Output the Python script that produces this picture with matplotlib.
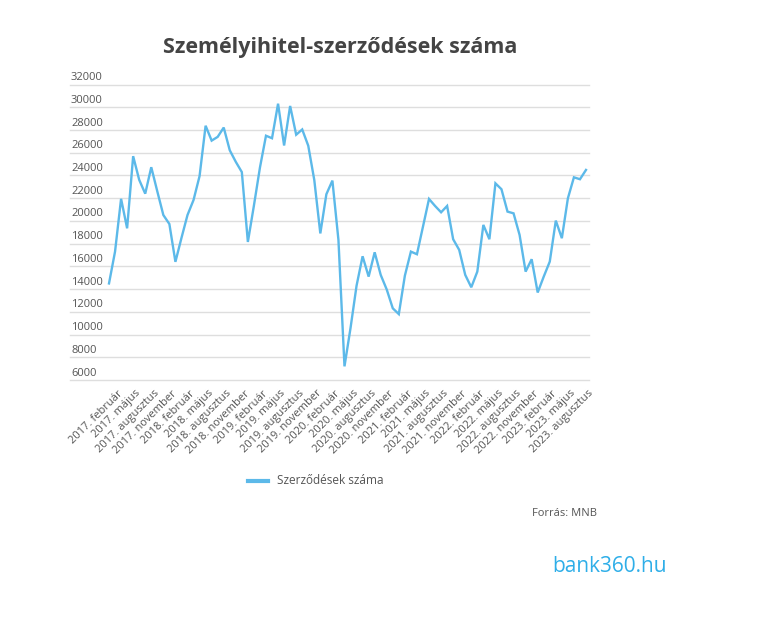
import matplotlib.pyplot as plt
from matplotlib.transforms import ScaledTranslation

# =========================================================
# DATA (havi szerződésszám, 2017. február - 2023. szeptember)
# =========================================================
honapok = ["január", "február", "március", "április", "május", "június",
           "július", "augusztus", "szeptember", "október", "november", "december"]

start_year = 2017
start_month = 2  # február

szerzodesek = [
    14500, 17300, 21950, 19350, 25700, 23620, 22400, 24730, 22600, 20520,
    19730, 16400, 18500, 20520, 21840, 23950, 28380, 27070, 27400, 28220,
    26220, 25200, 24300, 18150, 21350, 24700, 27500, 27280, 30320, 26640,
    30120, 27590, 28050, 26620, 23600, 18900, 22350, 23550, 18320, 7200,
    10570, 14300, 16890, 15100, 17240, 15250, 13960, 12310, 11800, 15180,
    17300, 17070, 19500, 21935, 21320, 20760, 21320, 18390, 17450, 15250,
    14160, 15540, 19650, 18390, 23310, 22790, 20820, 20670, 18770, 15540,
    16630, 13700, 15100, 16420, 20030, 18480, 21990, 23840, 23670, 24490,
]

y_ticks = list(range(6000, 32001, 2000))

labels = []
for i in range(len(szerzodesek)):
    m = start_month - 1 + i
    labels.append(f"{start_year + m // 12}. {honapok[m % 12]}")

# =========================================================
# FIGURE
# =========================================================
plt.rcParams['font.family'] = ['Open Sans', 'DejaVu Sans']

W, H = 761, 617
fig = plt.figure(figsize=(W / 100, H / 100), dpi=100)
fig.patch.set_facecolor("white")

left, right, top, bottom = 70, 589, 84.6, 380
ax = fig.add_axes([left / W, 1 - bottom / H, (right - left) / W, (bottom - top) / H])

x = list(range(len(szerzodesek)))
ax.plot(x, szerzodesek, color="#5cb9e9", linewidth=1.7, solid_joinstyle="miter",
        label="Szerződések száma", zorder=3)

px = 477 / (len(szerzodesek) - 1)
ax.set_xlim(-(109 - left) / px, len(szerzodesek) - 1 + (right - 586) / px)
ax.set_ylim(6000, 32000)

for s in ax.spines.values():
    s.set_visible(False)
ax.set_yticks(y_ticks)
ax.set_xticks([])
ax.tick_params(axis="y", length=0, labelleft=False)
ax.grid(axis="y", color="#dedede", linewidth=1)
for gl in ax.get_ygridlines():
    gl.set_clip_on(False)  # a szélső rácsvonalak is látszódjanak
ax.set_axisbelow(True)

# y feliratok a rácsvonal fölött, balra igazítva
for v in y_ticks:
    ax.text(0.0, v, str(v), transform=ax.get_yaxis_transform() +
            ScaledTranslation(1 / 100, 1.5 / 100, fig.dpi_scale_trans),
            ha="left", va="bottom", fontsize=8, color="#555555")

# x feliratok: minden harmadik hónap, 45 fokban
for i in range(0, len(labels), 3):
    ax.text(i, 0, labels[i], transform=ax.get_xaxis_transform() +
            ScaledTranslation(8 / 100, -8 / 100, fig.dpi_scale_trans),
            rotation=45, rotation_mode="anchor", ha="right", va="top",
            fontsize=8, color="#555555")

# =========================================================
# TITLE, LEGEND, SOURCE, LOGO
# =========================================================
fig.text(340 / W, 1 - 48 / H, "Személyihitel-szerződések száma",
         ha="center", va="center", fontsize=15.5, fontweight="bold", color="#444444")

fig.add_artist(plt.Line2D([248 / W, 268 / W], [1 - 481 / H, 1 - 481 / H],
                          color="#5cb9e9", linewidth=3))
fig.text(277 / W, 1 - 481 / H, "Szerződések száma", ha="left", va="center",
         fontsize=8.5, color="#555555")

fig.text(597 / W, 1 - 513 / H, "Forrás: MNB", ha="right", va="center",
         fontsize=8, color="#555555")

fig.text(610 / W, 1 - 567 / H, "bank360.hu", ha="center", va="center",
         fontsize=15, color="#2eaee8")

fig.savefig("out.png", dpi=100, facecolor="white")
